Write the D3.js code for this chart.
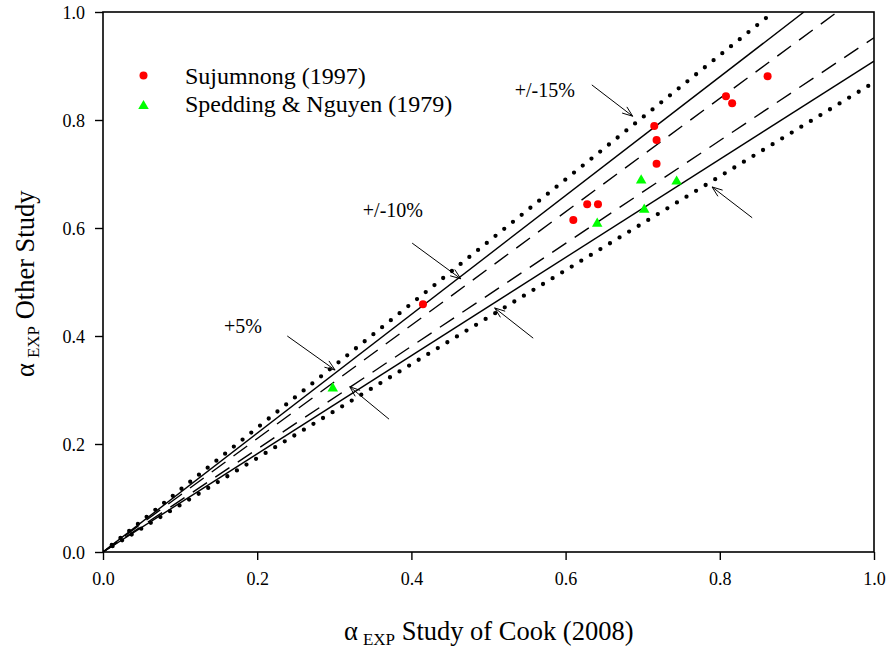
<!DOCTYPE html>
<html>
<head>
<meta charset="utf-8">
<script src="https://cdn.jsdelivr.net/npm/d3@7"></script>
<style>
  html, body { margin: 0; padding: 0; background: #fff; }
  svg, svg text { font-family: "Liberation Serif", "Times New Roman", serif; }
  svg { display: block; }
</style>
</head>
<body>
<svg id="chart" width="891" height="649"></svg>
<script>
// Measured alpha values: Cook (2008) on x, other study on y
const sujumnongX = [0.415, 0.610, 0.628, 0.642, 0.715, 0.718, 0.718, 0.808, 0.816, 0.862];
const sujumnongY = [0.459, 0.615, 0.644, 0.644, 0.789, 0.763, 0.719, 0.844, 0.831, 0.881];
const speddingX = [0.298, 0.641, 0.698, 0.702, 0.744];
const speddingY = [0.304, 0.609, 0.689, 0.635, 0.687];

// Deviation bands around the parity line
const bandRatios = [1.15, 1.10, 1.05, 1 / 1.05, 1 / 1.10, 1 / 1.15];
const bandStyles = ["dotted", "solid", "dashed", "dashed", "solid", "dotted"];

const tickValues = [0, 0.2, 0.4, 0.6, 0.8, 1.0];

// Band labels and pointer arrows (data units)
const bandLabels = [
  { text: "+/-15%", x: 0.534, y: 0.842 },
  { text: "+/-10%", x: 0.337, y: 0.620 },
  { text: "+5%", x: 0.157, y: 0.406 }
];
const arrowFromX = [0.634, 0.842, 0.401, 0.558, 0.239, 0.371];
const arrowFromY = [0.865, 0.619, 0.572, 0.396, 0.400, 0.246];
const arrowToX   = [0.687, 0.790, 0.464, 0.508, 0.301, 0.320];
const arrowToY   = [0.807, 0.676, 0.506, 0.452, 0.337, 0.306];

const serif = '"Liberation Serif", "Times New Roman", serif';
const svg = d3.select("#chart");
const plotL = 103, plotR = 874, plotT = 12, plotB = 552;

const x = d3.scaleLinear().domain([0, 1]).range([plotL, plotR]);
const y = d3.scaleLinear().domain([0, 1]).range([plotB, plotT]);

svg.append("defs").append("clipPath").attr("id", "plotClip")
  .append("rect").attr("x", plotL).attr("y", plotT)
  .attr("width", plotR - plotL).attr("height", plotB - plotT);

const plot = svg.append("g").attr("clip-path", "url(#plotClip)");

// Band lines from origin to the frame
bandRatios.forEach((r, i) => {
  const xEnd = Math.min(1, 1 / r);
  const line = plot.append("line")
    .attr("x1", x(0)).attr("y1", y(0))
    .attr("x2", x(xEnd)).attr("y2", y(xEnd * r))
    .attr("stroke", "#000");
  if (bandStyles[i] === "dotted") {
    line.attr("stroke-width", 4.3).attr("stroke-linecap", "round")
      .attr("stroke-dasharray", "0 11.2");
  } else if (bandStyles[i] === "dashed") {
    line.attr("stroke-width", 1.4).attr("stroke-dasharray", "17 10");
  } else {
    line.attr("stroke-width", 1.4);
  }
});

// Axes
const fontTick = 18;
const xAxis = d3.axisBottom(x).tickValues(tickValues).tickSize(8).tickPadding(12)
  .tickFormat(d3.format(".1f"));
const yAxis = d3.axisLeft(y).tickValues(tickValues).tickSize(8).tickPadding(10)
  .tickFormat(d3.format(".1f"));

const gx = svg.append("g").attr("transform", `translate(0,${plotB})`).call(xAxis);
const gy = svg.append("g").attr("transform", `translate(${plotL},0)`).call(yAxis);
[gx, gy].forEach(g => {
  g.attr("font-family", null).attr("font-size", null);
  g.select(".domain").remove();
  g.selectAll(".tick line").attr("stroke", "#000").attr("stroke-width", 1.4);
  g.selectAll(".tick text").attr("fill", "#000")
    .style("font-size", fontTick + "px").style("font-family", serif);
});
gy.selectAll(".tick text").attr("dy", "0.34em");

// Frame
svg.append("rect").attr("x", plotL).attr("y", plotT)
  .attr("width", plotR - plotL).attr("height", plotB - plotT)
  .attr("fill", "none").attr("stroke", "#000").attr("stroke-width", 1.6);

// Data markers
const sujumnong = sujumnongX.map((v, i) => [v, sujumnongY[i]]);
const spedding = speddingX.map((v, i) => [v, speddingY[i]]);

svg.append("g").selectAll("circle").data(sujumnong).join("circle")
  .attr("cx", d => x(d[0])).attr("cy", d => y(d[1])).attr("r", 4)
  .attr("fill", "#ff0000");

const tri = d3.symbol().type(d3.symbolTriangle).size(48);
svg.append("g").selectAll("path").data(spedding).join("path")
  .attr("d", tri)
  .attr("transform", d => `translate(${x(d[0])},${y(d[1]) + 0.5})`)
  .attr("fill", "#00ff00");

// Band labels
svg.append("g").selectAll("text").data(bandLabels).join("text")
  .attr("x", d => x(d.x)).attr("y", d => y(d.y))
  .style("font-size", "20px").style("font-family", serif).attr("fill", "#000")
  .text(d => d.text);

// Pointer arrows with open heads
const arrows = svg.append("g").attr("stroke", "#000").attr("stroke-width", 1).attr("fill", "none");
arrowFromX.forEach((fx, i) => {
  const x1 = x(fx), y1 = y(arrowFromY[i]), x2 = x(arrowToX[i]), y2 = y(arrowToY[i]);
  arrows.append("line").attr("x1", x1).attr("y1", y1).attr("x2", x2).attr("y2", y2);
  const ang = Math.atan2(y2 - y1, x2 - x1);
  const len = 11, spread = 0.36;
  const p1 = [x2 - len * Math.cos(ang - spread), y2 - len * Math.sin(ang - spread)];
  const p2 = [x2 - len * Math.cos(ang + spread), y2 - len * Math.sin(ang + spread)];
  arrows.append("path").attr("d", `M${p1[0]},${p1[1]}L${x2},${y2}L${p2[0]},${p2[1]}`);
});

// Legend
const legend = svg.append("g");
legend.append("circle").attr("cx", 143.5).attr("cy", 75.5).attr("r", 4).attr("fill", "#ff0000");
legend.append("path").attr("d", tri).attr("transform", "translate(143.5,106)").attr("fill", "#00ff00");
legend.append("text").attr("x", 185).attr("y", 84).style("font-size", "24px").attr("fill", "#000")
  .text("Sujumnong (1997)");
legend.append("text").attr("x", 185).attr("y", 112).style("font-size", "24px").attr("fill", "#000")
  .text("Spedding & Nguyen (1979)");

// Axis titles with subscript
const xt = svg.append("text").attr("x", 344).attr("y", 640).style("font-size", "26.5px").attr("fill", "#000");
xt.append("tspan").text("α");
xt.append("tspan").style("font-size", "17px").attr("dy", 5).attr("dx", 5).text("EXP");
xt.append("tspan").attr("dy", -5).text(" Study of Cook (2008)");

const yt = svg.append("text").attr("transform", "translate(34,377) rotate(-90)")
  .style("font-size", "26.5px").attr("fill", "#000");
yt.append("tspan").text("α");
yt.append("tspan").style("font-size", "17px").attr("dy", 5).attr("dx", 5).text("EXP");
yt.append("tspan").attr("dy", -5).text(" Other Study");
</script>
</body>
</html>
